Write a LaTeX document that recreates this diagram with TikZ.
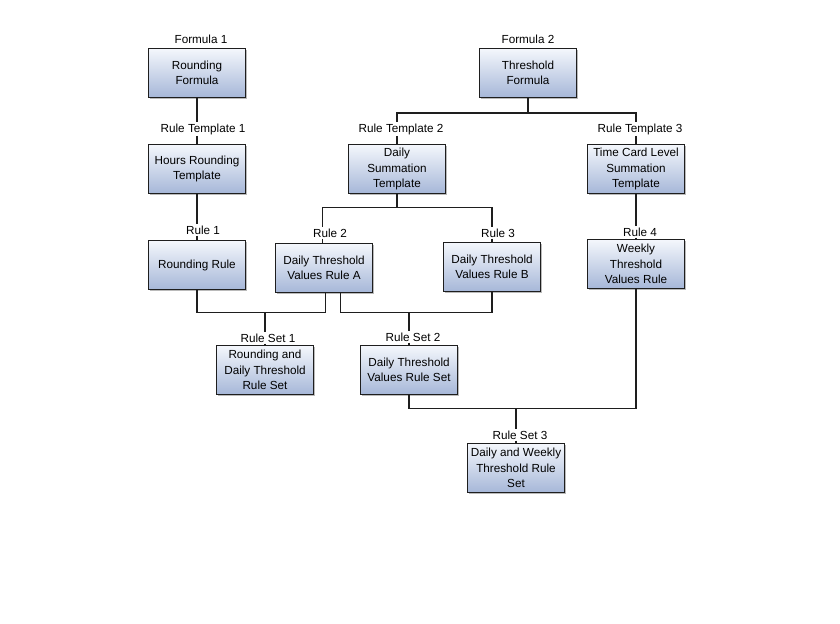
\documentclass[tikz,border=0pt]{standalone}
\usepackage{fontspec}
\setmainfont{Liberation Sans}
\usetikzlibrary{shadows}

\definecolor{boxtop}{RGB}{244,247,252}
\definecolor{boxbottom}{RGB}{166,183,216}
\definecolor{wire}{RGB}{30,30,30}

\tikzset{
  rulebox/.style={draw=wire, line width=0.9pt, top color=boxtop, bottom color=boxbottom,
    minimum width=2.91cm, minimum height=1.47cm, inner sep=1pt, align=center,
    font=\fontsize{10}{13.2}\selectfont,
    drop shadow={shadow xshift=1.6pt, shadow yshift=-1.6pt, fill=black!45, opacity=0.6}},
  tag/.style={fill=white, inner sep=1pt, font=\fontsize{10}{12}\selectfont},
  wire/.style={draw=wire, line width=0.9pt}
}

\begin{document}
\begin{tikzpicture}[x=0.03cm, y=-0.03cm]
\useasboundingbox[fill=white] (0,0) rectangle (840,624);

% Formulas
\node[rulebox] (roundf) at (197,73) {Rounding\\Formula};
\node[rulebox] (threshf) at (528,73) {Threshold\\Formula};
\node[tag] (f1) at (201,39) {Formula 1};
\node[tag] (f2) at (528,39) {Formula 2};

% Rule templates
\node[rulebox] (hourst) at (197,169) {Hours Rounding\\Template};
\node[rulebox] (dailyst) at (397,169) {Daily\\Summation\\Template};
\node[rulebox] (timect) at (636,169) {Time Card Level\\Summation\\Template};
\node[tag] (rt1) at (203,129) {Rule Template 1};
\node[tag] (rt2) at (401,129) {Rule Template 2};
\node[tag] (rt3) at (640,129) {Rule Template 3};

% Rules
\node[rulebox] (roundr) at (197,265) {Rounding Rule};
\node[rulebox] (ruleA) at (324,268) {Daily Threshold\\Values Rule A};
\node[rulebox] (ruleB) at (492,267) {Daily Threshold\\Values Rule B};
\node[rulebox] (weeklyr) at (636,264) {Weekly\\Threshold\\Values Rule};
\node[tag] (r1) at (203,230) {Rule 1};
\node[tag] (r2) at (330,233) {Rule 2};
\node[tag] (r3) at (498,233) {Rule 3};
\node[tag] (r4) at (640,232) {Rule 4};

% Rule sets
\node[rulebox] (set1) at (265,370) {Rounding and\\Daily Threshold\\Rule Set};
\node[rulebox] (set2) at (409,370) {Daily Threshold\\Values Rule Set};
\node[rulebox] (set3) at (516,468) {Daily and Weekly\\Threshold Rule\\Set};
\node[tag] (rs1) at (268,338) {Rule Set 1};
\node[tag] (rs2) at (413,337) {Rule Set 2};
\node[tag] (rs3) at (520,435) {Rule Set 3};

% Connectors
\draw[wire] (roundf.south) -- (roundf.south |- rt1.north);
\draw[wire] (rt1.south -| hourst.north) -- (hourst.north);
\draw[wire] (threshf.south) -- ++(0,15) coordinate (j1);
\draw[wire] (j1) -| (dailyst.north |- rt2.north);
\draw[wire] (j1) -| (timect.north |- rt3.north);
\draw[wire] (rt2.south -| dailyst.north) -- (dailyst.north);
\draw[wire] (rt3.south -| timect.north) -- (timect.north);

\draw[wire] (hourst.south) -- (hourst.south |- r1.north);
\draw[wire] (r1.south -| roundr.north) -- (roundr.north);
\draw[wire] (dailyst.south) -- ++(0,13) coordinate (j2);
\draw[wire] (j2) -| ([xshift=-1]ruleA.north |- r2.north);
\draw[wire] (j2) -| (ruleB.north |- r3.north);
\draw[wire] ([xshift=-1]r2.south -| ruleA.north) -- ([xshift=-1]ruleA.north);
\draw[wire] (r3.south -| ruleB.north) -- (ruleB.north);
\draw[wire] (timect.south) -- (timect.south |- r4.north);
\draw[wire] (r4.south -| weeklyr.north) -- (weeklyr.north);

\draw[wire] (roundr.south) -- ++(0,22) coordinate (j3) -| ([xshift=1]ruleA.south);
\draw[wire] (j3 -| set1.north) -- (set1.north |- rs1.north);
\draw[wire] (rs1.south -| set1.north) -- (set1.north);
\draw[wire] ([xshift=14]ruleA.south) -- ++(0,19) coordinate (j4) -| (ruleB.south);
\draw[wire] (j4 -| set2.north) -- (set2.north |- rs2.north);
\draw[wire] (rs2.south -| set2.north) -- (set2.north);
\draw[wire] (set2.south) -- ++(0,13) coordinate (j5) -| (weeklyr.south);
\draw[wire] (j5 -| set3.north) -- (set3.north |- rs3.north);
\draw[wire] (rs3.south -| set3.north) -- (set3.north);
\end{tikzpicture}
\end{document}
